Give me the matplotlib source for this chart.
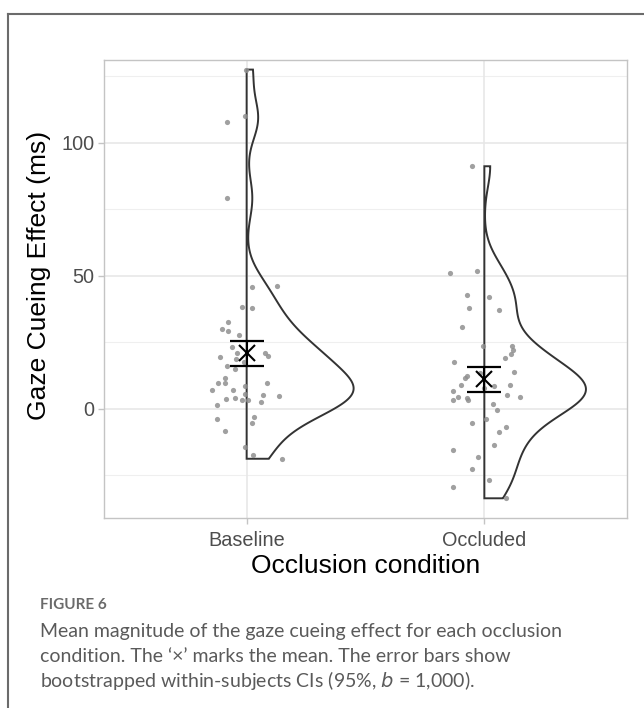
import numpy as np
import matplotlib
matplotlib.use("Agg")
import matplotlib.pyplot as plt
from matplotlib.lines import Line2D
from matplotlib.patches import Polygon

# ---------------- data ----------------
categories = ["Baseline", "Occluded"]

baseline_vals = [127.4, 110.0, 107.7, 79.1, 45.7, 46.0, 38.4, 37.8, 32.5, 30.1,
                 29.1, 27.7, 23.2, 21.0, 21.1, 19.8, 19.6, 18.75, 17.5, 15.9,
                 15.1, 11.5, 9.75, 9.75, 9.6, 8.4, 7.25, 7.0, 5.6, 5.1,
                 4.75, 3.6, 4.1, 3.25, 3.25, 2.4, 1.4, -3.0, -4.0, -5.4,
                 -8.5, -14.5, -17.25, -18.75]
# horizontal jitter of each point (category units)
baseline_jit = [-0.001, -0.008, -0.084, -0.084, 0.024, 0.126, -0.021, 0.021, -0.080, -0.103,
                -0.078, -0.032, -0.060, -0.042, 0.078, 0.088, -0.114, -0.046, -0.010, -0.081,
                -0.049, -0.092, -0.120, -0.093, 0.084, -0.008, -0.146, -0.056, -0.008, 0.068,
                0.135, -0.088, -0.047, -0.021, 0.005, 0.062, -0.123, 0.033, -0.126, 0.021,
                -0.091, -0.008, 0.026, 0.149]

occluded_vals = [91.1, 51.0, 51.75, 42.9, 41.9, 37.8, 37.1, 30.75, 23.6, 23.6,
                 22.1, 20.7, 18.9, 17.7, 14.0, 13.5, 12.4, 11.4, 9.1, 8.5,
                 8.9, 8.0, 6.75, 4.6, 4.25, 3.5, 3.5, 5.25, 4.6, 2.0,
                 -0.5, -3.75, -5.4, -6.75, -8.75, -13.5, -15.4, -18.25, -22.75, -26.6,
                 -29.25, -33.6]
occluded_jit = [-0.052, -0.146, -0.029, -0.075, 0.019, -0.063, 0.063, -0.092, -0.006, 0.115,
                0.119, 0.113, 0.088, -0.126, 0.126, -0.017, -0.075, -0.082, -0.100, 0.040,
                0.109, 0.000, -0.134, -0.109, -0.071, -0.130, -0.067, 0.094, 0.151, 0.036,
                0.054, 0.008, -0.054, 0.092, 0.063, 0.042, -0.130, -0.025, -0.054, 0.019,
                -0.130, 0.090]

means = [20.9, 11.1]
ci_low = [16.25, 6.4]
ci_high = [25.6, 15.6]

yticks = [0, 50, 100]
ylabel = "Gaze Cueing Effect (ms)"
xlabel = "Occlusion condition"
fig_label = "FIGURE 6"
caption_lines = [
    "Mean magnitude of the gaze cueing effect for each occlusion",
    "condition. The \u2018\u00d7\u2019 marks the mean. The error bars show",
]

# ---------------- helpers ----------------
def nrd0(x):
    x = np.asarray(x, float)
    sd = x.std(ddof=1)
    q75, q25 = np.percentile(x, [75, 25])
    lo = min(sd, (q75 - q25) / 1.34)
    return 0.9 * lo * len(x) ** (-0.2)

def kde(x, n=512):
    x = np.asarray(x, float)
    bw = nrd0(x)
    grid = np.linspace(x.min(), x.max(), n)
    z = (grid[:, None] - x[None, :]) / bw
    d = np.exp(-0.5 * z ** 2).sum(axis=1) / (len(x) * bw * np.sqrt(2 * np.pi))
    return grid, d

# ---------------- figure ----------------
W, H = 644, 708
fig = plt.figure(figsize=(W / 100, H / 100), dpi=100)
fig.patch.set_facecolor("white")

def fx(px):
    return px / W

def fy(py):
    return 1 - py / H

ax = fig.add_axes([fx(104), fy(518), fx(627) - fx(104), fy(60) - fy(518)])
ax.set_xlim(0.4, 2.6)
ax.set_ylim(-41, 131)

grid_col = "#e6e6e6"
for v in [-25, 25, 75, 125]:
    ax.axhline(v, color="#efefef", lw=0.8, zorder=0)
for v in yticks:
    ax.axhline(v, color=grid_col, lw=1.1, zorder=0)
for i in range(len(categories)):
    ax.axvline(i + 1, color=grid_col, lw=1.1, zorder=0)

for s in ax.spines.values():
    s.set_color("#c4c4c4")
    s.set_linewidth(1.0)

ax.set_yticks(yticks)
ax.set_yticklabels([str(v) for v in yticks])
ax.set_xticks([1, 2])
ax.set_xticklabels(categories)
ax.tick_params(axis="both", colors="#c4c4c4", length=4, width=1.0,
               labelcolor="#4d4d4d", labelsize=14.3)
ax.tick_params(axis="x", pad=5)
ax.tick_params(axis="y", pad=3)
for lab in ax.get_xticklabels() + ax.get_yticklabels():
    lab.set_family("Liberation Sans")

ax.set_ylabel(ylabel, fontsize=19, family="Liberation Sans", color="black")
ax.set_xlabel(xlabel, fontsize=19, family="Liberation Sans", color="black", labelpad=3)
ax.yaxis.set_label_coords(-0.101, 0.53)

# violins (flat, right half), area scaled
dens = [kde(baseline_vals), kde(occluded_vals)]
dmax = max(d.max() for _, d in dens)
for i, (g, d) in enumerate(dens):
    c = i + 1
    w = 0.45 * d / dmax
    xs = np.concatenate([[c], c + w, [c]])
    ys = np.concatenate([[g[0]], g, [g[-1]]])
    poly = Polygon(np.column_stack([xs, ys]), closed=True, fill=False,
                   edgecolor="#333333", lw=1.4, zorder=2, joinstyle="miter")
    ax.add_patch(poly)

# jittered points
for i, (vals, jit) in enumerate([(baseline_vals, baseline_jit), (occluded_vals, occluded_jit)]):
    xs = i + 1 + np.asarray(jit)
    ax.scatter(xs, vals, s=14, color="#8f8f8f", alpha=0.85, linewidths=0, zorder=3)

# error bars and means
for i in range(len(categories)):
    c = i + 1
    ax.errorbar([c], [means[i]], yerr=[[means[i] - ci_low[i]], [ci_high[i] - means[i]]],
                fmt="none", ecolor="black", elinewidth=1.5, capsize=12, capthick=1.6, zorder=4)
    ax.plot([c], [means[i]], marker="x", color="black", markersize=11, mew=1.5, zorder=5)

# outer frame
fig.add_artist(Line2D([fx(8), fx(8)], [0, fy(14)], color="#6b6b6b", lw=1.5))
fig.add_artist(Line2D([fx(8), 1], [fy(14), fy(14)], color="#6b6b6b", lw=1.5))

# caption
fig.text(fx(40), fy(605), fig_label, fontsize=11, family="Lato", weight="bold",
         color="#6a6a6a", va="center", ha="left")
fig.text(fx(40), fy(632), caption_lines[0], fontsize=14, family="Lato",
         color="#5a5a5a", va="center", ha="left")
fig.text(fx(40), fy(656), caption_lines[1], fontsize=14, family="Lato",
         color="#5a5a5a", va="center", ha="left")
fig.text(fx(40), fy(680), "bootstrapped within-subjects CIs (95%, $\\it{b}$ = 1,000).",
         fontsize=14, family="Lato", color="#5a5a5a", va="center", ha="left")

fig.savefig("out.png", dpi=100, facecolor="white")
